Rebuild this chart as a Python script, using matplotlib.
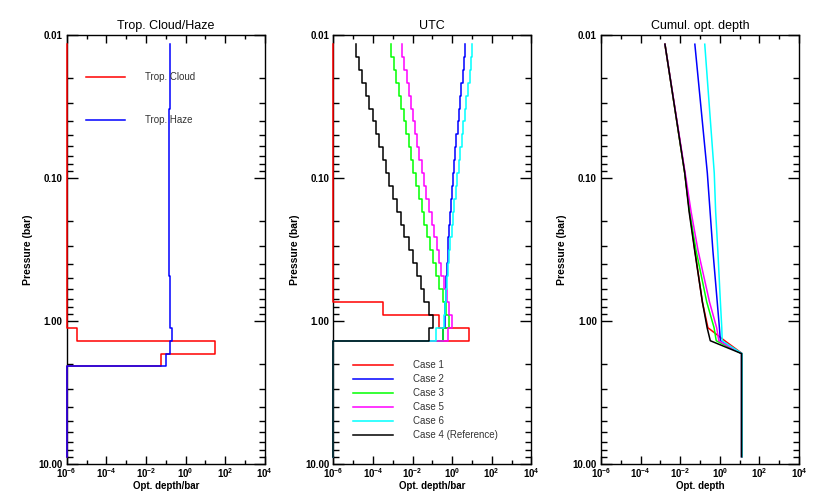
import numpy as np
import matplotlib
matplotlib.use('Agg')
import matplotlib.pyplot as plt
from matplotlib.ticker import FixedLocator, FixedFormatter, NullFormatter

plt.rcParams['font.family'] = ['Liberation Sans', 'DejaVu Sans']
plt.rcParams['mathtext.default'] = 'regular'

OFF = -np.inf   # no opacity in that layer (drawn on the left axis)

# model level boundaries (bar), 32 layers
p_levels = [0.01156, 0.01422, 0.01750, 0.02157, 0.02655, 0.03266, 0.04018, 0.04943,
            0.06093, 0.07499, 0.09226, 0.1135, 0.1397, 0.1722, 0.2118, 0.2606,
            0.3206, 0.3945, 0.4864, 0.5984, 0.7362, 0.9057, 1.114, 1.374,
            1.690, 2.080, 2.559, 3.148, 3.881, 4.775, 5.875, 7.228, 8.892]

# log10 opt. depth per bar for each layer
trop_cloud = [OFF] * 22 + [-5.49, 1.49, -1.22] + [OFF] * 7
trop_haze = [-0.76, -0.77, -0.78, -0.79, -0.80, -0.81, -0.82, -0.83, -0.84, -0.84, -0.85,
             -0.85, -0.85, -0.84, -0.84, -0.83, -0.82, -0.81, -0.80, -0.79, -0.78, -0.76,
             -0.70, -0.78, -0.98] + [OFF] * 7

utc_case1 = [OFF] * 20 + [-3.47, -0.68, 0.86] + [OFF] * 9
utc_case2 = [0.66, 0.60, 0.53, 0.47, 0.41, 0.35, 0.28, 0.22, 0.16, 0.09, 0.03, -0.03,
             -0.06, -0.11, -0.14, -0.20, -0.23, -0.26, -0.30, -0.33, -0.35, -0.38,
             -0.45] + [OFF] * 9
utc_case3 = [-3.08, -2.95, -2.83, -2.70, -2.58, -2.45, -2.32, -2.20, -2.07, -1.95, -1.82,
             -1.69, -1.52, -1.40, -1.25, -1.12, -0.98, -0.82, -0.68, -0.48, -0.31, -0.15,
             -0.45] + [OFF] * 9
utc_case5 = [-2.52, -2.41, -2.30, -2.19, -2.08, -1.97, -1.87, -1.76, -1.65, -1.54, -1.43,
             -1.32, -1.15, -1.03, -0.90, -0.78, -0.68, -0.57, -0.43, -0.28, -0.15, -0.01,
             -0.23] + [OFF] * 9
utc_case6 = [1.03, 0.95, 0.88, 0.80, 0.72, 0.65, 0.57, 0.49, 0.42, 0.34, 0.27, 0.19,
             0.12, 0.04, -0.03, -0.09, -0.15, -0.20, -0.25, -0.30, -0.34, -0.40,
             -0.80] + [OFF] * 9
utc_case4 = [-4.87, -4.70, -4.53, -4.36, -4.19, -4.02, -3.85, -3.68, -3.51, -3.34, -3.17,
             -3.00, -2.79, -2.58, -2.41, -2.19, -1.99, -1.79, -1.57, -1.40, -1.17, -0.98,
             -1.19] + [OFF] * 9

# cumulative opt. depth (log10) at selected levels
cum_p = [0.0116, 0.0923, 0.172, 0.321, 0.736, 1.114, 1.374, 1.690, 8.89]
cum_case1 = [-2.77, -1.77, -1.53, -1.26, -0.88, -0.60, 0.25, 1.13, 1.13]
cum_case2 = [-1.26, -0.63, -0.49, -0.35, -0.13, -0.02, 0.03, 1.10, 1.10]
cum_case3 = [-2.77, -1.77, -1.52, -1.20, -0.66, -0.29, -0.18, 1.10, 1.10]
cum_case5 = [-2.77, -1.75, -1.45, -1.10, -0.52, -0.16, -0.05, 1.10, 1.10]
cum_case6 = [-0.76, -0.28, -0.21, -0.10, 0.03, 0.10, 0.12, 1.12, 1.12]
cum_case4 = [-2.77, -1.77, -1.55, -1.27, -0.88, -0.64, -0.48, 1.10, 1.10]

case_names = ['Case 1', 'Case 2', 'Case 3', 'Case 5', 'Case 6', 'Case 4 (Reference)']
case_colors = ['#ff0000', '#0000ff', '#00ff00', '#ff00ff', '#00ffff', '#000000']
utc_cases = [utc_case1, utc_case2, utc_case3, utc_case5, utc_case6, utc_case4]
cum_cases = [cum_case1, cum_case2, cum_case3, cum_case5, cum_case6, cum_case4]

XMIN, XMAX = 1e-6, 1e4
x_major = [1e-6, 1e-4, 1e-2, 1e0, 1e2, 1e4]
x_major_labels = ['$10^{-6}$', '$10^{-4}$', '$10^{-2}$', '$10^{0}$', '$10^{2}$', '$10^{4}$']
x_minor = [1e-5, 1e-3, 1e-1, 1e1, 1e3]
y_major = [0.01, 0.1, 1.0, 10.0]
y_major_labels = ['0.01', '0.10', '1.00', '10.00']
y_minor = [k * 10.0 ** d for d in (-2, -1, 0) for k in range(2, 10)]

LW = 1.1


def layer_steps(levels, logtau):
    p = np.asarray(levels)
    tau = np.clip(10.0 ** np.asarray(logtau), XMIN, None)
    ys = np.column_stack([p[:-1], p[1:]]).ravel()
    xs = np.repeat(tau, 2)
    return xs, ys


def setup(ax, title, xlabel):
    ax.set_xscale('log')
    ax.set_yscale('log')
    ax.set_xlim(XMIN, XMAX)
    ax.set_ylim(10, 0.01)
    ax.xaxis.set_major_locator(FixedLocator(x_major))
    ax.xaxis.set_major_formatter(FixedFormatter(x_major_labels))
    ax.xaxis.set_minor_locator(FixedLocator(x_minor))
    ax.xaxis.set_minor_formatter(NullFormatter())
    ax.yaxis.set_major_locator(FixedLocator(y_major))
    ax.yaxis.set_major_formatter(FixedFormatter(y_major_labels))
    ax.yaxis.set_minor_locator(FixedLocator(y_minor))
    ax.yaxis.set_minor_formatter(NullFormatter())
    ax.tick_params(which='both', direction='in', top=True, right=True, width=1.0,
                   labelsize=7)
    ax.tick_params(axis='x', which='major', length=5.5, pad=1.5)
    ax.tick_params(axis='x', which='minor', length=3.2)
    ax.tick_params(axis='y', which='major', length=7.9, pad=3)
    ax.tick_params(axis='y', which='minor', length=4.3)
    plt.setp(ax.get_xticklabels() + ax.get_yticklabels(), fontweight='bold')
    for s in ax.spines.values():
        s.set_linewidth(1.0)
    ax.text(0.5, 1.022, title, transform=ax.transAxes, ha='center', va='center',
            fontsize=9)
    ax.set_xlabel(xlabel, fontsize=7, fontweight='bold')
    ax.xaxis.set_label_coords(0.5, -0.051)
    ax.xaxis.label.set_va('center')
    ax.set_ylabel('Pressure (bar)', fontsize=7.5, fontweight='bold')
    ax.yaxis.set_label_coords(-0.195, 0.5)
    ax.yaxis.label.set_va('center')


def legend_row(ax, y, color, text, x0, x1, xt):
    ax.plot([x0, x1], [y, y], color=color, lw=LW, transform=ax.transAxes)
    ax.text(xt, y, text, transform=ax.transAxes, ha='left', va='center',
            fontsize=7, color='#333333')


fig = plt.figure(figsize=(8.3, 4.96), dpi=100)
W, H = 198 / 830, 429 / 496
bottom = 1 - 464 / 496
ax1 = fig.add_axes([66.7 / 830, bottom, W, H])
ax2 = fig.add_axes([333.3 / 830, bottom, W, H])
ax3 = fig.add_axes([601 / 830, bottom, W, H])

# Panel 1: tropospheric cloud / haze
for vals, col in [(trop_cloud, '#ff0000'), (trop_haze, '#0000ff')]:
    xs, ys = layer_steps(p_levels, vals)
    ax1.plot(xs, ys, color=col, lw=LW, clip_on=False, zorder=3)
setup(ax1, 'Trop. Cloud/Haze', 'Opt. depth/bar')
legend_row(ax1, 0.901, '#ff0000', 'Trop. Cloud', 0.097, 0.294, 0.395)
legend_row(ax1, 0.802, '#0000ff', 'Trop. Haze', 0.097, 0.294, 0.395)

# Panel 2: UTC cases
for vals, col in zip(utc_cases, case_colors):
    xs, ys = layer_steps(p_levels, vals)
    ax2.plot(xs, ys, color=col, lw=LW, clip_on=False, zorder=3)
setup(ax2, 'UTC', 'Opt. depth/bar')
for k, (name, col) in enumerate(zip(case_names, case_colors)):
    legend_row(ax2, 0.2315 - k * 0.0326, col, name, 0.101, 0.303, 0.401)

# Panel 3: cumulative optical depth
for vals, col in zip(cum_cases, case_colors):
    ax3.plot(10.0 ** np.asarray(vals), cum_p, color=col, lw=LW, zorder=3)
setup(ax3, 'Cumul. opt. depth', 'Opt. depth')

fig.savefig('out.png', dpi=100, facecolor='white')
